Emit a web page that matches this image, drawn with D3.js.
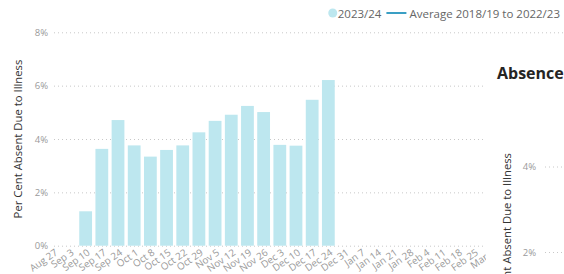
<!DOCTYPE html>
<html>
<head>
<meta charset="utf-8">
<style>
  body { margin: 0; background: #fff; }
  svg { display: block; font-family: "Segoe UI", "Open Sans", sans-serif; }
</style>
</head>
<body>
<svg width="564" height="274"></svg>
<script src="https://d3js.org/d3.v7.min.js"></script>
<script>
// weekly categories (week commencing)
var weeks = ["Aug 27", "Sep 3", "Sep 10", "Sep 17", "Sep 24", "Oct 1", "Oct 8", "Oct 15",
  "Oct 22", "Oct 29", "Nov 5", "Nov 12", "Nov 19", "Nov 26", "Dec 3", "Dec 10", "Dec 17",
  "Dec 24", "Dec 31", "Jan 7", "Jan 14", "Jan 21", "Jan 28", "Feb 4", "Feb 11", "Feb 18",
  "Feb 25", "Mar 3"];

// per cent absent, 2023/24 (null = no data yet)
var current = [null, null, 1.29, 3.63, 4.71, 3.76, 3.34, 3.59, 3.76, 4.25, 4.68, 4.91,
  5.24, 5.01, 3.78, 3.75, 5.47, 6.21, null, null, null, null, null, null, null, null,
  null, null];

var yTicks = [0, 2, 4, 6, 8];
var legendLabels = ["2023/24", "Average 2018/19 to 2022/23"];
var yTitle = "Per Cent Absent Due to Illness";

var barColor = "#bde7ef";
var lineColor = "#3a9fc4";

var svg = d3.select("svg");

var x = d3.scaleBand().domain(weeks).range([45.2, 45.2 + 16.18 * weeks.length]).paddingInner(0.21).paddingOuter(0.105);
var y = d3.scaleLinear().domain([0, 8]).range([245.7, 32.3]);

// gridlines
svg.append("g").selectAll("line")
  .data(yTicks)
  .enter().append("line")
  .attr("x1", 54).attr("x2", 564)
  .attr("y1", function(d) { return y(d) + 0.5; })
  .attr("y2", function(d) { return y(d) + 0.5; })
  .attr("stroke", "#c8c8c8")
  .attr("stroke-width", 1)
  .attr("stroke-dasharray", "1,3");

// y tick labels
svg.append("g").selectAll("text")
  .data(yTicks)
  .enter().append("text")
  .attr("x", 48)
  .attr("y", function(d) { return y(d) + 3.5; })
  .attr("text-anchor", "end")
  .attr("font-size", 9.5)
  .attr("fill", "#9a9a9a")
  .text(function(d) { return d + "%"; });

// y title
svg.append("text")
  .attr("transform", "translate(21.5,139) rotate(-90)")
  .attr("text-anchor", "middle")
  .attr("font-size", 11.3)
  .attr("fill", "#333")
  .text(yTitle);

// bars
svg.append("g").selectAll("rect")
  .data(weeks.map(function(w, i) { return {week: w, value: current[i]}; })
    .filter(function(d) { return d.value !== null; }))
  .enter().append("rect")
  .attr("x", function(d) { return x(d.week); })
  .attr("width", x.bandwidth())
  .attr("y", function(d) { return y(d.value); })
  .attr("height", function(d) { return y(0) - y(d.value); })
  .attr("fill", barColor);

// x labels, rotated
svg.append("g").selectAll("text")
  .data(weeks)
  .enter().append("text")
  .attr("transform", function(d) {
    return "translate(" + (x(d) + x.bandwidth() / 2 + 5) + ",254) rotate(-35)";
  })
  .attr("text-anchor", "end")
  .attr("font-size", 9.8)
  .attr("fill", "#9a9a9a")
  .text(function(d) { return d; });

// legend, laid out from the right
var legend = svg.append("g").attr("font-size", 11.5).attr("fill", "#666");
var avgText = legend.append("text").attr("y", 17.5).text(legendLabels[1]);
var avgW = avgText.node().getComputedTextLength();
var avgX = 560 - avgW;
avgText.attr("x", avgX);
legend.append("line").attr("x1", avgX - 23).attr("x2", avgX - 3).attr("y1", 13).attr("y2", 13)
  .attr("stroke", lineColor).attr("stroke-width", 2);
var curText = legend.append("text").attr("y", 17.5).text(legendLabels[0]);
var curW = curText.node().getComputedTextLength();
curText.attr("x", avgX - 28 - curW);
legend.append("circle").attr("cx", avgX - 28 - curW - 5).attr("cy", 13).attr("r", 4.5).attr("fill", barColor);

// neighbouring visual drawn over the right edge
var other = svg.append("g");
other.append("rect").attr("x", 486).attr("y", 44).attr("width", 78).attr("height", 230).attr("fill", "#fff");
other.append("text").attr("x", 497).attr("y", 79).attr("font-size", 16).attr("font-weight", "bold")
  .attr("fill", "#252423").text("Absence");
other.append("text")
  .attr("transform", "translate(511,153) rotate(-90)")
  .attr("text-anchor", "end")
  .attr("font-size", 11.3)
  .attr("fill", "#333")
  .text(yTitle);
var y2 = d3.scaleLinear().domain([2, 4]).range([252, 166.5]);
other.selectAll("text.t2").data([2, 4]).enter().append("text")
  .attr("class", "t2")
  .attr("x", 536).attr("y", function(d) { return y2(d) + 3.5; })
  .attr("text-anchor", "end").attr("font-size", 9.5).attr("fill", "#9a9a9a")
  .text(function(d) { return d + "%"; });
other.selectAll("line").data([2, 4]).enter().append("line")
  .attr("x1", 545).attr("x2", 564)
  .attr("y1", function(d) { return y2(d) + 0.5; })
  .attr("y2", function(d) { return y2(d) + 0.5; })
  .attr("stroke", "#c8c8c8").attr("stroke-dasharray", "1,3");
</script>
</body>
</html>
